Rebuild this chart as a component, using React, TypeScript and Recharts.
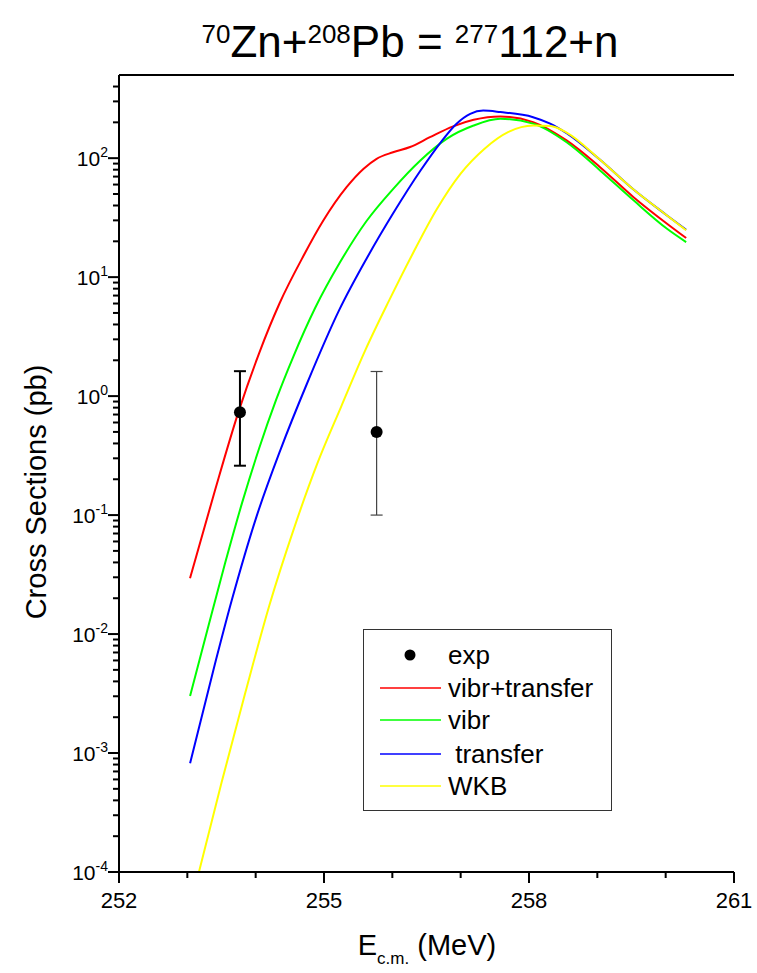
import React from 'react';
import { ComposedChart, Line, Scatter, ErrorBar, XAxis, YAxis, Legend, Label, ReferenceLine } from 'recharts';

const FONT = 'Liberation Sans, Arial, Helvetica, sans-serif';

// E_cm (MeV) and cross sections (pb) for each curve
const redE = [253.04, 253.40, 253.75, 254.05, 254.35, 254.70, 254.99, 255.33, 255.58, 255.77, 256.01, 256.26, 256.55, 256.89, 257.19, 257.58, 258.06, 258.55, 259.04, 259.53, 260.02, 260.30];
const redS = [0.0295, 0.158, 0.741, 2.29, 6.03, 15.1, 29.9, 57, 81.5, 98.8, 112, 124, 150, 185, 210, 224, 201, 141, 84, 47, 28.1, 21.3];

const greenE = [253.04, 253.30, 253.55, 253.80, 254.05, 254.30, 254.55, 254.87, 255.23, 255.62, 256.01, 256.41, 256.80, 257.19, 257.58, 258.06, 258.55, 259.04, 259.53, 260.02, 260.30];
const greenS = [0.00302, 0.0112, 0.0389, 0.126, 0.363, 0.933, 2.14, 5.50, 13.2, 29.5, 55.0, 95.7, 146, 188, 214, 195, 136, 78.9, 44.2, 25.5, 19.7];

const blueE = [253.04, 253.38, 253.65, 254.01, 254.36, 254.75, 255.22, 255.62, 256.01, 256.41, 256.70, 256.94, 257.14, 257.33, 257.58, 258.06, 258.31, 258.55, 259.04, 259.53, 260.02, 260.30];
const blueS = [0.00082, 0.00495, 0.0192, 0.0962, 0.35, 1.27, 5.25, 14.2, 34.2, 78.3, 134, 195, 236, 251, 244, 221, 195, 162, 97, 54.5, 33, 25];

const yellowE = [253.17, 253.50, 253.85, 254.20, 254.55, 254.90, 255.25, 255.60, 255.95, 256.30, 256.65, 257.00, 257.35, 257.70, 258.06, 258.31, 258.55, 259.04, 259.53, 260.02, 260.30];
const yellowS = [0.0001, 0.000562, 0.00324, 0.0174, 0.0741, 0.269, 0.813, 2.40, 6.31, 15.8, 37.2, 74.1, 120, 166, 188, 186, 164, 97, 54.5, 33, 24.8];

// experimental points
const expE = [253.77, 255.77];
const expS = [0.73, 0.50];
const expLow = [0.26, 0.10];
const expHigh = [1.62, 1.61];

// axes
const xMajorTicks = [252, 255, 258, 261];
const xMinorTicks = [253, 254, 256, 257, 259, 260];
const yExponents = [-4, -3, -2, -1, 0, 1, 2];
const yMinorMultipliers = [2, 3, 4, 5, 6, 7, 8, 9];
const xDomain = [252, 261];
const yDomain = [1e-4, 500];

const legendLabels = ['exp', 'vibr+transfer', 'vibr', ' transfer', 'WKB'];
const seriesColors = ['#ff0000', '#00ff00', '#0000ff', '#ffff00'];

const zip = (E: number[], S: number[]) => E.map((e, i) => ({ E: e, sigma: S[i] }));
const redData = zip(redE, redS);
const greenData = zip(greenE, greenS);
const blueData = zip(blueE, blueS);
const yellowData = zip(yellowE, yellowS);
const expData = expE.map((e, i) => ({ E: e, sigma: expS[i], err: [expS[i] - expLow[i], expHigh[i] - expS[i]] }));

const xTicks = [...xMajorTicks, ...xMinorTicks].sort((a, b) => a - b);
const yTicks: number[] = [];
yExponents.forEach((p) => {
  yTicks.push(Math.pow(10, p));
  yMinorMultipliers.forEach((m) => {
    const v = m * Math.pow(10, p);
    if (v < yDomain[1]) yTicks.push(v);
  });
});

const YTick = (props: any) => {
  const { x, y, payload } = props;
  const v = payload.value;
  const e = Math.log10(v);
  const major = Math.abs(e - Math.round(e)) < 1e-6;
  return (
    <g>
      <line x1={x} x2={x - (major ? 11 : 6)} y1={y} y2={y} stroke="#000" strokeWidth={2} />
      {major && (
        <text x={x - 11} y={y + 8} textAnchor="end" fontFamily={FONT} fontSize={21} fill="#000">
          <tspan>10</tspan>
          <tspan dy={-9} fontSize={14}>{String(Math.round(e))}</tspan>
        </text>
      )}
    </g>
  );
};

const XTick = (props: any) => {
  const { x, y, payload } = props;
  const major = xMajorTicks.includes(payload.value);
  return (
    <g>
      <line x1={x} x2={x} y1={y} y2={y + (major ? 11 : 6)} stroke="#000" strokeWidth={2} />
      {major && (
        <text x={x} y={y + 36} textAnchor="middle" fontFamily={FONT} fontSize={22} fill="#000">
          {payload.value}
        </text>
      )}
    </g>
  );
};

const TitleContent = () => (
  <text x={410} y={57} textAnchor="middle" fontFamily={FONT} fontSize={44} fill="#000" style={{ whiteSpace: 'pre' }}>
    <tspan fontSize={26} dy={-14}>70</tspan>
    <tspan dy={14}>Zn+</tspan>
    <tspan fontSize={26} dy={-14}>208</tspan>
    <tspan dy={14}>{'Pb = '}</tspan>
    <tspan fontSize={26} dy={-14}>277</tspan>
    <tspan dy={14}>112+n</tspan>
  </text>
);

const XLabelContent = () => (
  <text x={427} y={955} textAnchor="middle" fontFamily={FONT} fontSize={29} fill="#000" style={{ whiteSpace: 'pre' }}>
    <tspan>E</tspan>
    <tspan fontSize={17} dy={9}>c.m.</tspan>
    <tspan dy={-9}>{' (MeV)'}</tspan>
  </text>
);

const YLabelContent = () => (
  <text x={-492} y={46} transform="rotate(-90)" textAnchor="middle" fontFamily={FONT} fontSize={29} fill="#000">
    Cross Sections (pb)
  </text>
);

const LegendBox = () => {
  const rows = [26, 59, 91, 125, 157];
  return (
    <div style={{ width: 249, height: 182, border: '1.5px solid #333', boxSizing: 'border-box', background: '#fff' }}>
      <svg width={246} height={179} style={{ display: 'block' }}>
        {legendLabels.map((lab, i) => (
          <g key={lab}>
            {i === 0 ? (
              <circle cx={46} cy={rows[i] - 1} r={5.5} fill="#000" />
            ) : (
              <line x1={16} x2={77} y1={rows[i] - 1} y2={rows[i] - 1} stroke={seriesColors[i - 1]} strokeWidth={1.5} />
            )}
            <text x={84} y={rows[i] + 8} fontFamily={FONT} fontSize={26} fill="#000" style={{ whiteSpace: 'pre' }}>
              {lab}
            </text>
          </g>
        ))}
      </svg>
    </div>
  );
};

const Dot = (props: any) => <circle cx={props.cx} cy={props.cy} r={6} fill="#000" />;

export default function App() {
  return (
    <div style={{ position: 'absolute', left: 0, top: 0, width: 757, height: 973, background: '#fff' }}>
      <ComposedChart width={757} height={973} margin={{ top: 75, right: 23, bottom: 61, left: 0 }}>
        <XAxis
          dataKey="E"
          type="number"
          domain={xDomain}
          ticks={xTicks}
          interval={0}
          allowDataOverflow
          height={40}
          tickSize={0}
          tickMargin={0}
          tickLine={false}
          tick={<XTick />}
          axisLine={{ stroke: '#000', strokeWidth: 2 }}
        >
          <Label content={<XLabelContent />} />
          <Label content={<TitleContent />} />
        </XAxis>
        <YAxis
          dataKey="sigma"
          scale="log"
          domain={yDomain}
          ticks={yTicks}
          interval={0}
          allowDataOverflow
          width={119}
          tickSize={0}
          tickMargin={0}
          tickLine={false}
          tick={<YTick />}
          axisLine={{ stroke: '#000', strokeWidth: 2 }}
        >
          <Label content={<YLabelContent />} />
        </YAxis>
        <YAxis
          yAxisId="right"
          orientation="right"
          width={0}
          tick={false}
          tickLine={false}
          axisLine={{ stroke: '#000', strokeWidth: 2 }}
        />
        <ReferenceLine y={yDomain[1]} stroke="#000" strokeWidth={2} ifOverflow="visible" />
        <Line data={redData} dataKey="sigma" type="monotone" stroke={seriesColors[0]} strokeWidth={2} dot={false} activeDot={false} isAnimationActive={false} />
        <Line data={greenData} dataKey="sigma" type="monotone" stroke={seriesColors[1]} strokeWidth={2} dot={false} activeDot={false} isAnimationActive={false} />
        <Line data={blueData} dataKey="sigma" type="monotone" stroke={seriesColors[2]} strokeWidth={2} dot={false} activeDot={false} isAnimationActive={false} />
        <Line data={yellowData} dataKey="sigma" type="monotone" stroke={seriesColors[3]} strokeWidth={2} dot={false} activeDot={false} isAnimationActive={false} />
        <Scatter data={[expData[0]]} dataKey="sigma" shape={<Dot />} isAnimationActive={false}>
          <ErrorBar dataKey="err" direction="y" width={6} stroke="#000" strokeWidth={2} isAnimationActive={false} />
        </Scatter>
        <Scatter data={[expData[1]]} dataKey="sigma" shape={<Dot />} isAnimationActive={false}>
          <ErrorBar dataKey="err" direction="y" width={6} stroke="#444" strokeWidth={1.2} isAnimationActive={false} />
        </Scatter>
        <Legend
          layout="vertical"
          align="center"
          verticalAlign="middle"
          wrapperStyle={{ position: 'absolute', left: 363, top: 629, width: 249, height: 182 }}
          content={<LegendBox />}
        />
      </ComposedChart>
    </div>
  );
}
